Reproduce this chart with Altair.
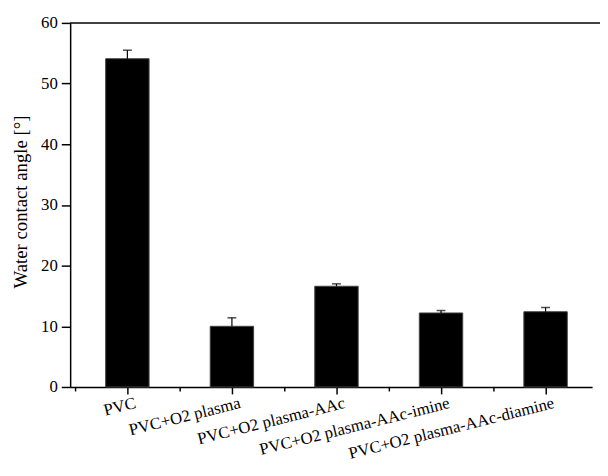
import altair as alt
import pandas as pd

categories = ["PVC", "PVC+O2 plasma", "PVC+O2 plasma-AAc",
              "PVC+O2 plasma-AAc-imine", "PVC+O2 plasma-AAc-diamine"]
values = [54.1, 10.0, 16.6, 12.2, 12.4]
errors = [1.4, 1.4, 0.4, 0.4, 0.7]
y_ticks = list(range(0, 61, 5))

df = pd.DataFrame({"cat": categories, "val": values, "err": errors})
df["idx"] = range(len(categories))
df["upper"] = df["val"] + df["err"]

x_ticks = [i * 0.5 - 0.5 for i in range(2 * len(categories) + 1)]
names_js = "[" + ",".join("'" + c + "'" for c in categories) + "]"

FONT = "Liberation Serif"

xscale = alt.Scale(domain=[-0.5, 4.398], nice=False, zero=False)
yscale = alt.Scale(domain=[0, 60], nice=False)

xaxis = alt.Axis(title=None, values=x_ticks,
                 labelExpr="datum.value % 1 === 0 ? " + names_js + "[datum.value] : ''",
                 tickSize={"condition": {"test": "datum.value % 1 === 0", "value": 7}, "value": 4},
                 labelAngle=-14, labelAlign="right", labelBaseline="top",
                 labelFont=FONT, labelFontSize=17, labelColor="black", labelLimit=0,
                 labelPadding=1, labelOffset=6, tickColor="black",
                 tickWidth=1.5, domainColor="black", domainWidth=1.5, grid=False,
                 labelOverlap=False, labelBound=False, labelFlush=False)
yaxis = alt.Axis(title="Water contact angle [°]", values=y_ticks,
                 labelExpr="datum.value % 10 === 0 ? datum.label : ''",
                 tickSize={"condition": {"test": "datum.value % 10 === 0", "value": 9}, "value": 5},
                 labelFont=FONT, labelFontSize=17, labelColor="black", labelPadding=4,
                 titleFont=FONT, titleFontSize=19, titleFontWeight="normal", titleColor="black",
                 titlePadding=10, titleY=181, tickColor="black", tickWidth=1.5,
                 domainColor="black", domainWidth=1.5, grid=False)

base = alt.Chart(df)

bars = base.mark_bar(width=44, color="black", stroke="#444", strokeWidth=1).encode(
    x=alt.X("idx:Q", scale=xscale, axis=xaxis),
    y=alt.Y("val:Q", scale=yscale, axis=yaxis),
)

err_rule = base.mark_rule(color="black", strokeWidth=1.2).encode(
    x=alt.X("idx:Q"),
    y=alt.Y("val:Q"),
    y2="upper:Q",
)

err_cap = base.mark_tick(color="black", size=9, thickness=1.5, orient="horizontal").encode(
    x=alt.X("idx:Q"),
    y=alt.Y("upper:Q"),
)

top_line = alt.Chart(pd.DataFrame({"a": [0]})).mark_rule(color="black", strokeWidth=1.5).encode(
    x=alt.value(0), x2=alt.value(540), y=alt.value(0)
)

chart = alt.layer(bars, err_rule, err_cap, top_line).properties(
    width=529, height=369,
    padding={"left": 63, "top": 12, "right": 8, "bottom": 79},
    autosize=alt.AutoSizeParams(type="none"),
).configure(background="white").configure_view(stroke=None)

chart.save("out.html", embed_options={"renderer": "svg", "actions": False})
